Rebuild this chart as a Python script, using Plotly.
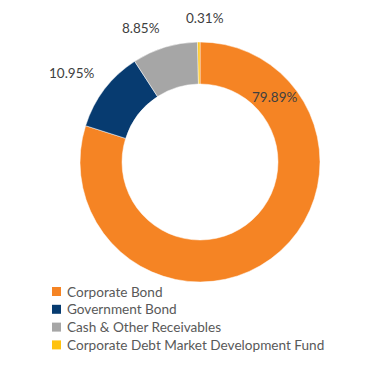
import math
import plotly.graph_objects as go

labels = ["Corporate Bond", "Government Bond", "Cash & Other Receivables",
          "Corporate Debt Market Development Fund"]
values = [79.89, 10.95, 8.85, 0.31]
colors = ["#F58424", "#073B70", "#A6A6A6", "#FFC20E"]

W, H = 369, 366
cx, cy, R, hole = 200, 162, 120, 0.65
FONT = "Lato"

dom_x = [(cx - R) / W, (cx + R) / W]
dom_y = [1 - (cy + R) / H, 1 - (cy - R) / H]

fig = go.Figure(go.Pie(
    labels=labels, values=values, sort=False, direction="clockwise", rotation=0,
    hole=hole, marker=dict(colors=colors, line=dict(color="white", width=0.5)),
    textinfo="none", domain=dict(x=dom_x, y=dom_y), hoverinfo="label+percent",
    showlegend=False,
))

total = sum(values)
start = 0.0
for i, v in enumerate(values):
    mid = math.radians(start + 360 * v / total / 2)
    start += 360 * v / total
    txt = f"{v:.2f}%"
    if i == 0:
        # largest slice: label inside the ring, upper right
        a = math.radians(49)
        rm = R * (1 + hole) / 2
        lx, ly = cx + rm * math.sin(a), cy - rm * math.cos(a)
        xa, ya = "center", "middle"
    else:
        r = R + 10
        lx, ly = cx + r * math.sin(mid), cy - r * math.cos(mid)
        s = math.sin(mid)
        xa = "right" if s < -0.2 else ("left" if s > 0.2 else "center")
        ya = "bottom" if math.cos(mid) > 0.3 else "middle"
        if xa == "center":
            lx += 6
            ly -= 4
    fig.add_annotation(x=lx / W, y=1 - ly / H, xref="paper", yref="paper",
                       text=txt, showarrow=False, xanchor=xa, yanchor=ya,
                       font=dict(family=FONT, size=13.5, color="#404040"))

# legend drawn as colored squares + text
leg_x, leg_y0, leg_dy, sq = 52, 291.5, 17.8, 9
for i, (lab, col) in enumerate(zip(labels, colors)):
    yc = leg_y0 + i * leg_dy
    fig.add_shape(type="rect", xref="paper", yref="paper",
                  x0=leg_x / W, x1=(leg_x + sq) / W,
                  y0=1 - (yc + sq / 2) / H, y1=1 - (yc - sq / 2) / H,
                  fillcolor=col, line=dict(width=0))
    fig.add_annotation(x=(leg_x + sq + 4) / W, y=1 - yc / H, xref="paper", yref="paper",
                       text=lab, showarrow=False, xanchor="left", yanchor="middle",
                       font=dict(family=FONT, size=13.6, color="#595959"))

fig.update_layout(
    width=W, height=H, margin=dict(l=0, r=0, t=0, b=0),
    paper_bgcolor="white", plot_bgcolor="white", showlegend=False,
)
fig.write_html("out.html", config={"displayModeBar": False},
               post_script="document.body.style.margin='0';")
